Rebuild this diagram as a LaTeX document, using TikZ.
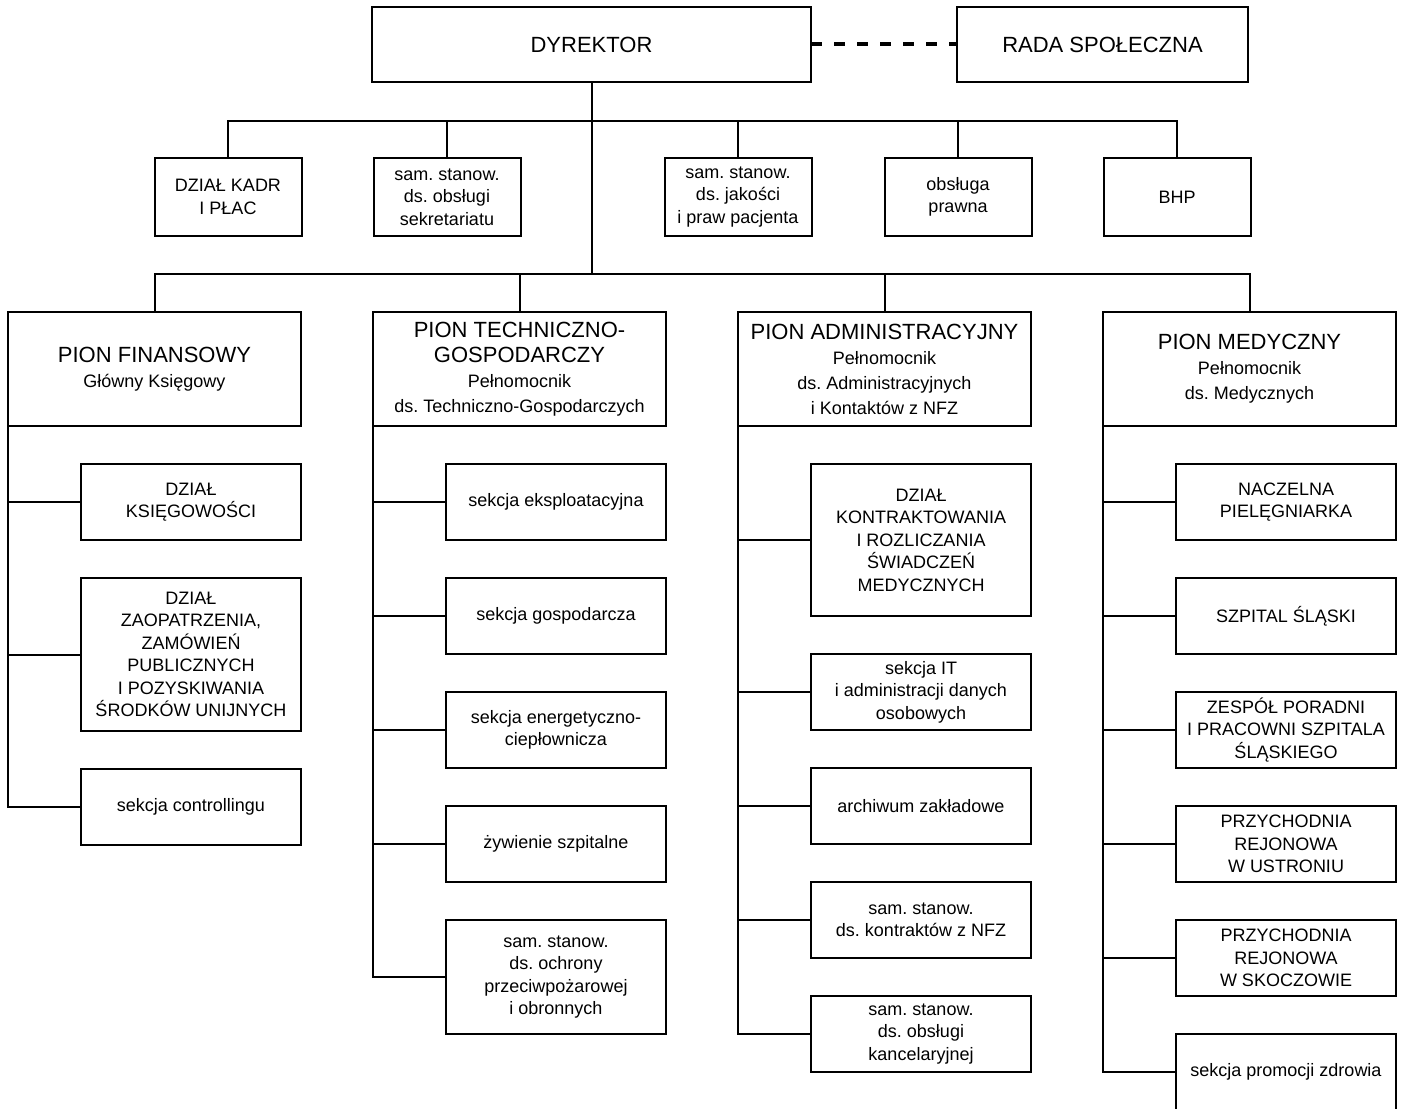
\documentclass[tikz,border=0pt]{standalone}
\usepackage{fontspec}
\setmainfont{Liberation Sans}
\usepackage{tikz}
\usetikzlibrary{positioning}

\newcommand\podpis{\fontsize{18}{22}\selectfont}
\frenchspacing

\begin{document}
\begin{tikzpicture}[x=1pt, y=1pt, line width=2pt]
                \tikzstyle{block} = [draw, rectangle, outer sep=0pt, inner sep=2pt, align=center, font=\fontsize{18}{22.5}\selectfont]
                \tikzstyle{head} = [block, font=\fontsize{22}{28}\selectfont, minimum height=75pt]
                \tikzstyle{small} = [block, minimum width=147pt, minimum height=78pt]
                \tikzstyle{pion} = [block, font=\fontsize{22}{25}\selectfont, minimum width=293pt, minimum height=114pt]
                \tikzstyle{sub} = [block, minimum width=220pt, minimum height=76pt]
                \useasboundingbox (0,0) rectangle (1402,-1108);

                \node [head, minimum width=439pt, anchor=north west] (dyrektor) at (372,-7) {DYREKTOR};
                \node [head, minimum width=291pt, right = 146pt of dyrektor] (rada) {RADA SPOŁECZNA};

                \node [small, anchor=north] (kadry) at (228,-158) {DZIAŁ KADR\\I PŁAC};
                \node [small, right = 72pt of kadry] (sekretariat) {sam. stanow.\\ds. obsługi\\sekretariatu};
                \node [small, right = 144pt of sekretariat] (jakosc) {sam. stanow.\\ds. jakości\\i praw pacjenta};
                \node [small, right = 73pt of jakosc] (prawna) {obsługa\\prawna};
                \node [small, right = 72pt of prawna] (bhp) {BHP};

                \node [pion, anchor=north west] (pion-fin) at (8,-312) {PION FINANSOWY\\\podpis Główny Księgowy};
                \node [pion, right = 72pt of pion-fin] (pion-tech) {PION TECHNICZNO-\\GOSPODARCZY\\\podpis Pełnomocnik\\\podpis ds. Techniczno-Gospodarczych};
                \node [pion, right = 72pt of pion-tech] (pion-adm) {PION ADMINISTRACYJNY\\\podpis Pełnomocnik\\\podpis ds. Administracyjnych\\\podpis i Kontaktów z NFZ};
                \node [pion, right = 72pt of pion-adm] (pion-med) {PION MEDYCZNY\\\podpis Pełnomocnik\\\podpis ds. Medycznych};

                \node [sub, below left = 38pt and 0pt of pion-fin.south east] (fin-ksieg) {DZIAŁ\\KSIĘGOWOŚCI};
                \node [sub, minimum height=153pt, below = 38pt of fin-ksieg] (fin-zaop) {DZIAŁ\\ZAOPATRZENIA,\\ZAMÓWIEŃ\\PUBLICZNYCH\\I POZYSKIWANIA\\ŚRODKÓW UNIJNYCH};
                \node [sub, below = 38pt of fin-zaop] (fin-contr) {sekcja controllingu};

                \node [sub, below left = 38pt and 0pt of pion-tech.south east] (tech-eksp) {sekcja eksploatacyjna};
                \node [sub, below = 38pt of tech-eksp] (tech-gosp) {sekcja gospodarcza};
                \node [sub, below = 38pt of tech-gosp] (tech-energ) {sekcja energetyczno-\\ciepłownicza};
                \node [sub, below = 38pt of tech-energ] (tech-zyw) {żywienie szpitalne};
                \node [sub, minimum height=114pt, below = 38pt of tech-zyw] (tech-ppoz) {sam. stanow.\\ds. ochrony\\przeciwpożarowej\\i obronnych};

                \node [sub, minimum height=152pt, below left = 38pt and 0pt of pion-adm.south east] (adm-kontr) {DZIAŁ\\KONTRAKTOWANIA\\I ROZLICZANIA\\ŚWIADCZEŃ\\MEDYCZNYCH};
                \node [sub, below = 38pt of adm-kontr] (adm-it) {sekcja IT\\i administracji danych\\osobowych};
                \node [sub, below = 38pt of adm-it] (adm-arch) {archiwum zakładowe};
                \node [sub, below = 38pt of adm-arch] (adm-nfz) {sam. stanow.\\ds. kontraktów z NFZ};
                \node [sub, below = 38pt of adm-nfz] (adm-kanc) {sam. stanow.\\ds. obsługi\\kancelaryjnej};

                \node [sub, below left = 38pt and 0pt of pion-med.south east] (med-piel) {NACZELNA\\PIELĘGNIARKA};
                \node [sub, below = 38pt of med-piel] (med-szpital) {SZPITAL ŚLĄSKI};
                \node [sub, below = 38pt of med-szpital] (med-zespol) {ZESPÓŁ PORADNI\\I PRACOWNI SZPITALA\\ŚLĄSKIEGO};
                \node [sub, below = 38pt of med-zespol] (med-ustron) {PRZYCHODNIA\\REJONOWA\\W USTRONIU};
                \node [sub, below = 38pt of med-ustron] (med-skocz) {PRZYCHODNIA\\REJONOWA\\W SKOCZOWIE};
                \node [sub, below = 38pt of med-skocz] (med-promo) {sekcja promocji zdrowia};

                \coordinate (bus-1) at (dyrektor.south |- 0,-121);
                \coordinate (bus-2) at (dyrektor.south |- 0,-274);

                \draw [line width=4pt, dash pattern=on 11pt off 12pt] (dyrektor.east) -- (rada.west);
                \draw (dyrektor.south) -- (bus-2);
                \foreach \n in {kadry,sekretariat,jakosc,prawna,bhp}
                    \draw (\n.north) |- (bus-1);
                \foreach \n in {pion-fin,pion-tech,pion-adm,pion-med}
                    \draw (\n.north) |- (bus-2);
                \foreach \n in {fin-ksieg,fin-zaop,fin-contr}
                    \draw (pion-fin.south west) |- (\n.west);
                \foreach \n in {tech-eksp,tech-gosp,tech-energ,tech-zyw,tech-ppoz}
                    \draw (pion-tech.south west) |- (\n.west);
                \foreach \n in {adm-kontr,adm-it,adm-arch,adm-nfz,adm-kanc}
                    \draw (pion-adm.south west) |- (\n.west);
                \foreach \n in {med-piel,med-szpital,med-zespol,med-ustron,med-skocz,med-promo}
                    \draw (pion-med.south west) |- (\n.west);
\end{tikzpicture}
\end{document}
